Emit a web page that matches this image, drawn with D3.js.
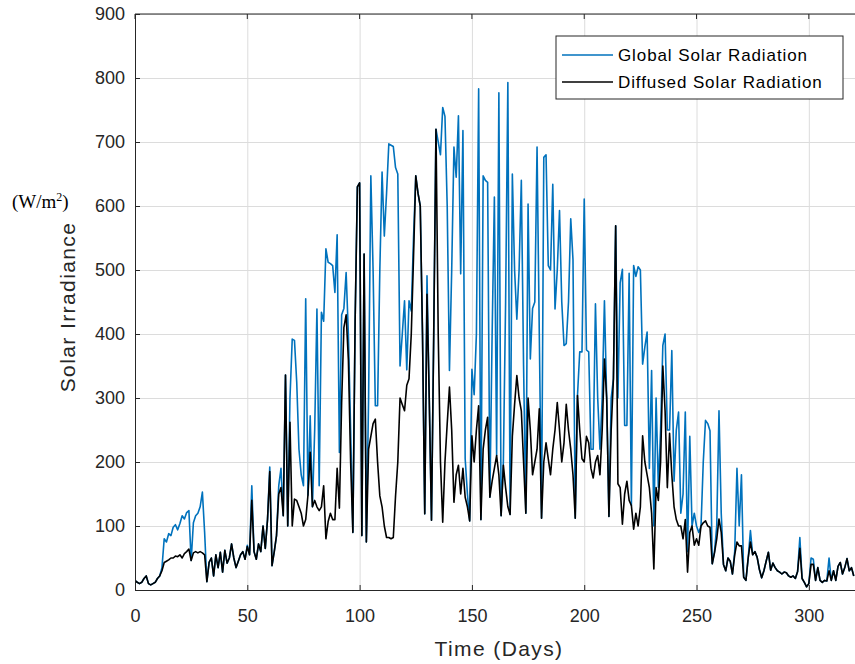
<!DOCTYPE html>
<html>
<head>
<meta charset="utf-8">
<script src="https://cdn.jsdelivr.net/npm/d3@7"></script>
<style>
  body { margin: 0; background: #fff; }
  text { font-family: "Liberation Sans", Arial, sans-serif; }
</style>
</head>
<body>
<script>
var w = 855, h = 664;

// daily values, day 0..320
var globalRad = [
  15,12,10,12,18,22,10,8,10,12,18,22,
  35,80,75,88,85,98,102,94,104,116,111,121,124,
  46,105,116,120,130,153,90,
  13,43,50,22,55,35,59,28,62,42,50,72,50,35,45,55,60,48,70,55,
  163,60,48,72,60,100,65,110,192,38,60,85,163,190,116,336,100,
  300,392,390,325,220,180,163,455,148,272,130,250,439,163,434,420,533,512,510,507,465,555,215,
  430,440,496,400,250,90,420,630,636,85,525,75,300,647,500,288,288,500,653,553,620,697,695,693,660,650,
  350,400,452,344,452,436,550,647,620,600,400,119,491,300,109,400,
  720,700,680,754,740,600,343,500,692,645,741,494,718,205,150,108,345,305,400,783,
  110,647,640,637,145,400,614,210,777,116,200,450,793,118,650,500,423,500,640,350,120,603,
  361,440,450,692,400,112,676,680,507,500,634,439,500,593,450,382,385,450,580,516,112,304,372,372,611,375,372,220,220,447,300,220,300,452,300,115,300,330,
  569,300,480,501,257,257,495,132,507,490,505,500,353,380,403,190,343,100,300,160,250,382,400,250,250,374,170,250,278,120,150,278,60,240,100,120,100,90,100,200,265,260,249,
  41,60,100,280,120,40,30,50,45,25,60,190,100,180,20,15,50,93,55,60,51,32,19,
  30,45,59,31,42,35,30,28,25,28,27,22,20,22,18,29,82,18,12,5,10,50,48,15,35,15,12,15,14,50,15,30,15,37,43,25,35,49,30,35,22
];
var diffuseRad = [
  15,12,10,12,18,22,10,8,10,12,18,22,
  30,43,45,47,50,50,53,52,55,50,57,60,64,
  46,58,60,58,60,58,55,
  13,43,50,22,55,35,59,28,62,42,50,72,50,35,45,55,60,48,68,55,
  140,60,48,72,60,100,65,110,185,38,60,85,150,160,116,336,100,
  262,100,142,140,130,120,100,110,148,215,130,140,130,124,130,163,80,107,120,110,110,190,128,
  293,410,430,360,200,90,420,630,636,85,525,75,220,240,260,267,200,147,130,100,82,82,80,82,147,200,
  300,290,280,320,330,400,520,647,620,600,400,119,462,300,109,400,
  720,400,200,106,200,260,317,250,137,180,195,150,190,145,130,108,241,200,250,288,
  110,220,250,270,145,170,190,210,180,116,195,160,130,118,240,290,335,300,280,200,120,300,
  250,180,200,220,283,112,200,230,205,180,220,250,293,250,200,230,290,250,220,180,112,304,250,205,200,240,230,190,175,200,210,180,250,361,300,115,250,330,
  569,166,160,103,150,170,140,132,95,120,100,130,241,200,180,160,120,33,160,140,200,350,280,160,245,180,130,110,100,100,80,110,28,90,100,70,80,70,100,105,108,100,98,
  41,58,80,111,90,40,30,50,45,25,55,75,69,69,20,15,50,75,55,60,51,32,19,
  30,45,59,31,42,35,30,28,25,28,27,22,20,22,18,29,65,18,12,5,10,40,40,15,35,15,12,15,14,30,15,30,15,37,43,25,35,49,30,35,22
];
var xTicks = [0, 50, 100, 150, 200, 250, 300];
var yTicks = [0, 100, 200, 300, 400, 500, 600, 700, 800, 900];
var seriesNames = ["Global Solar Radiation", "Diffused Solar Radiation"];
var seriesColors = ["#0072bd", "#000000"];

var pLeft = 135, pTop = 14, pRight = 856, pBottom = 590;

var svg = d3.select("body").append("svg")
            .attr("width", w)
            .attr("height", h);

var x = d3.scaleLinear().domain([0, 321]).range([pLeft, pRight]);
var y = d3.scaleLinear().domain([0, 900]).range([pBottom, pTop]);

// grid
var gridColor = "#dcdcdc";
svg.append("g")
   .attr("transform", "translate(0," + pBottom + ")")
   .call(d3.axisBottom(x).tickValues(xTicks).tickSize(-(pBottom - pTop)).tickFormat(""))
   .call(function(g) {
     g.select(".domain").remove();
     g.selectAll("line").attr("stroke", gridColor).attr("stroke-width", 1);
   });
svg.append("g")
   .attr("transform", "translate(" + pLeft + ",0)")
   .call(d3.axisLeft(y).tickValues(yTicks).tickSize(-(pRight - pLeft)).tickFormat(""))
   .call(function(g) {
     g.select(".domain").remove();
     g.selectAll("line").attr("stroke", gridColor).attr("stroke-width", 1);
   });

svg.append("clipPath").attr("id", "clip")
   .append("rect")
   .attr("x", pLeft).attr("y", pTop)
   .attr("width", pRight - pLeft).attr("height", pBottom - pTop);

var line = d3.line()
             .x(function(d, i) { return x(i); })
             .y(function(d) { return y(d); });

var plot = svg.append("g").attr("clip-path", "url(#clip)");
plot.append("path")
    .datum(globalRad)
    .attr("fill", "none")
    .attr("stroke", seriesColors[0])
    .attr("stroke-width", 1.6)
    .attr("stroke-linejoin", "round")
    .attr("d", line);
plot.append("path")
    .datum(diffuseRad)
    .attr("fill", "none")
    .attr("stroke", seriesColors[1])
    .attr("stroke-width", 1.6)
    .attr("stroke-linejoin", "round")
    .attr("d", line);

// axes, ticks pointing in
var axisColor = "#262626";
var xAxis = svg.append("g")
   .attr("transform", "translate(0," + pBottom + ")")
   .call(d3.axisBottom(x).tickValues(xTicks).tickSize(-5).tickPadding(19).tickSizeOuter(0));
var yAxis = svg.append("g")
   .attr("transform", "translate(" + pLeft + ",0)")
   .call(d3.axisLeft(y).tickValues(yTicks).tickSize(-5).tickPadding(10).tickSizeOuter(0));
[xAxis, yAxis].forEach(function(g) {
  g.select(".domain").attr("stroke", axisColor);
  g.selectAll("line").attr("stroke", axisColor);
  g.selectAll("text").attr("fill", axisColor)
   .style("font-size", "18px");
});
// top border with ticks
svg.append("line")
   .attr("x1", pLeft).attr("x2", pRight)
   .attr("y1", pTop).attr("y2", pTop)
   .attr("stroke", axisColor);
svg.selectAll(".toptick")
   .data(xTicks)
   .enter()
   .append("line")
   .attr("x1", function(d) { return x(d); })
   .attr("x2", function(d) { return x(d); })
   .attr("y1", pTop).attr("y2", pTop + 5)
   .attr("stroke", axisColor);

// axis labels
svg.append("text")
   .attr("x", 499).attr("y", 656)
   .attr("text-anchor", "middle")
   .attr("fill", axisColor)
   .style("font-size", "21px")
   .style("letter-spacing", "1.4px")
   .text("Time (Days)");
svg.append("text")
   .attr("transform", "translate(75,307) rotate(-90)")
   .attr("text-anchor", "middle")
   .attr("fill", axisColor)
   .style("font-size", "21px")
   .style("letter-spacing", "1.4px")
   .text("Solar Irradiance");
var unit = svg.append("text")
   .attr("x", 12).attr("y", 208)
   .attr("fill", "#000")
   .style("font-family", "'Liberation Serif', 'Times New Roman', serif")
   .style("font-size", "19px");
unit.append("tspan").text("(W/m");
unit.append("tspan").attr("dy", -7).style("font-size", "12px").text("2");
unit.append("tspan").attr("dy", 7).text(")");

// legend
var legend = svg.append("g").attr("transform", "translate(556,36)");
legend.append("rect")
      .attr("width", 287).attr("height", 63)
      .attr("fill", "#fff")
      .attr("stroke", axisColor)
      .attr("stroke-width", 1);
var item = legend.selectAll(".legend")
                 .data(seriesNames)
                 .enter()
                 .append("g")
                 .attr("class", "legend")
                 .attr("transform", function(d, i) { return "translate(0," + (19 + i * 27) + ")"; });
item.append("line")
    .attr("x1", 6).attr("x2", 57)
    .attr("stroke", function(d, i) { return seriesColors[i]; })
    .attr("stroke-width", 1.4);
item.append("text")
    .attr("x", 62).attr("dy", "0.35em")
    .attr("fill", "#000")
    .style("font-size", "17px")
    .style("letter-spacing", "0.9px")
    .text(function(d) { return d; });
</script>
</body>
</html>
